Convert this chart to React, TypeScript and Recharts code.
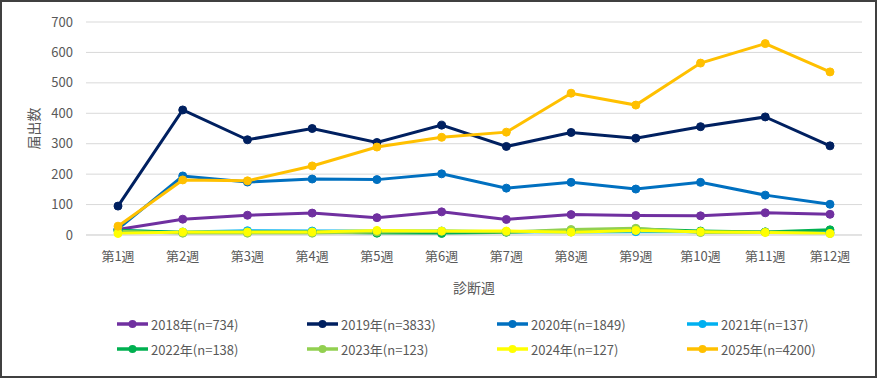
import React from 'react';
import { LineChart, Line, XAxis, YAxis, CartesianGrid, Legend } from 'recharts';

const weeks = ['第1週', '第2週', '第3週', '第4週', '第5週', '第6週', '第7週', '第8週', '第9週', '第10週', '第11週', '第12週'];
const yTicks = [0, 100, 200, 300, 400, 500, 600, 700];

const s2018 = [18, 52, 65, 72, 57, 76, 51, 67, 64, 63, 73, 68];
const s2019 = [95, 411, 313, 350, 304, 361, 291, 337, 318, 356, 388, 293];
const s2020 = [20, 194, 174, 184, 182, 201, 154, 173, 151, 173, 131, 101];
const s2021 = [14, 10, 14, 13, 13, 13, 11, 10, 11, 11, 10, 9];
const s2022 = [16, 8, 9, 10, 6, 5, 9, 15, 20, 13, 10, 17];
const s2023 = [12, 6, 6, 6, 10, 12, 10, 18, 22, 8, 10, 5];
const s2024 = [5, 10, 10, 10, 15, 13, 13, 9, 15, 11, 8, 5];
const s2025 = [29, 181, 178, 227, 289, 321, 338, 466, 427, 565, 629, 536];

const seriesKeys = ['s2018', 's2019', 's2020', 's2021', 's2022', 's2023', 's2024', 's2025'];
const seriesNames = ['2018年(n=734)', '2019年(n=3833)', '2020年(n=1849)', '2021年(n=137)', '2022年(n=138)', '2023年(n=123)', '2024年(n=127)', '2025年(n=4200)'];
const seriesColors = ['#7030A0', '#002060', '#0070C0', '#00B0F0', '#00B050', '#92D050', '#FFFF00', '#FFC000'];
const seriesValues = [s2018, s2019, s2020, s2021, s2022, s2023, s2024, s2025];

const data = weeks.map((w, i) => {
  const row: Record<string, any> = { week: w };
  seriesKeys.forEach((k, j) => {
    row[k] = seriesValues[j][i];
  });
  return row;
});

const FONT = '"Noto Sans CJK JP", "Noto Sans", sans-serif';
const TEXT = '#595959';

const YTitle = (props: any) => {
  const vb = props && props.viewBox ? props.viewBox : { x: 0, y: 22, width: 86, height: 213 };
  const cx = 33;
  const cy = vb.y + vb.height / 2;
  return (
    <text x={cx} y={cy} transform={`rotate(-90 ${cx} ${cy})`} textAnchor="middle" dominantBaseline="central" fontSize={14} fill={TEXT} fontFamily={FONT}>
      届出数
    </text>
  );
};

const XTitle = (props: any) => {
  const vb = props && props.viewBox ? props.viewBox : { x: 86, y: 235, width: 776, height: 60 };
  const cx = vb.x + vb.width / 2;
  const cy = 287;
  return (
    <text x={cx} y={cy} textAnchor="middle" dominantBaseline="central" fontSize={14} fill={TEXT} fontFamily={FONT}>
      診断週
    </text>
  );
};

const renderLegend = () => {
  return (
    <svg width={877} height={50} style={{ display: 'block' }}>
      {seriesNames.map((name, i) => {
        const col = i % 4;
        const row = Math.floor(i / 4);
        const x0 = 117 + col * 190;
        const y = 14 + row * 25;
        const c = seriesColors[i];
        return (
          <g key={name}>
            <line x1={x0} x2={x0 + 31} y1={y} y2={y} stroke={c} strokeWidth={3.5} />
            <circle cx={x0 + 15.5} cy={y} r={4} fill={c} />
            <text x={x0 + 34} y={y} dominantBaseline="central" fontSize={13} fill={TEXT} fontFamily={FONT}>
              {name}
            </text>
          </g>
        );
      })}
    </svg>
  );
};

export default function App() {
  return (
    <div style={{ position: 'absolute', left: 0, top: 0, width: 881, height: 379, background: '#fff', fontFamily: FONT }}>
      <div style={{ position: 'absolute', left: 0, top: 0, width: 877, height: 378, boxSizing: 'border-box', border: '2px solid #404040' }} />
      <div style={{ position: 'absolute', left: 0, top: 0 }}>
        <LineChart width={877} height={378} data={data} margin={{ top: 22, right: 15, left: 0, bottom: 33 }}>
          <CartesianGrid horizontal={true} vertical={false} stroke="#d9d9d9" strokeWidth={1} />
          <XAxis
            dataKey="week"
            type="category"
            height={60}
            padding={{ left: 32, right: 32 }}
            axisLine={{ stroke: '#d9d9d9' }}
            tickLine={false}
            tickSize={6}
            tickMargin={11}
            interval={0}
            tick={{ fill: TEXT, fontSize: 13, fontFamily: FONT }}
            label={XTitle}
          />
          <YAxis
            domain={[0, 700]}
            ticks={yTicks}
            width={86}
            axisLine={false}
            tickLine={false}
            tickSize={6}
            tickMargin={7}
            tick={{ fill: TEXT, fontSize: 13, fontFamily: FONT }}
            label={YTitle}
          />
          <Legend
            verticalAlign="bottom"
            content={renderLegend}
            wrapperStyle={{ left: 0, top: 310, width: 877, height: 50 }}
          />
          {seriesKeys.map((k, i) => (
            <Line
              key={k}
              type="linear"
              dataKey={k}
              name={seriesNames[i]}
              stroke={seriesColors[i]}
              strokeWidth={3}
              dot={{ r: 4, fill: seriesColors[i], stroke: seriesColors[i], strokeWidth: 1 }}
              activeDot={false}
              isAnimationActive={false}
            />
          ))}
        </LineChart>
      </div>
    </div>
  );
}
